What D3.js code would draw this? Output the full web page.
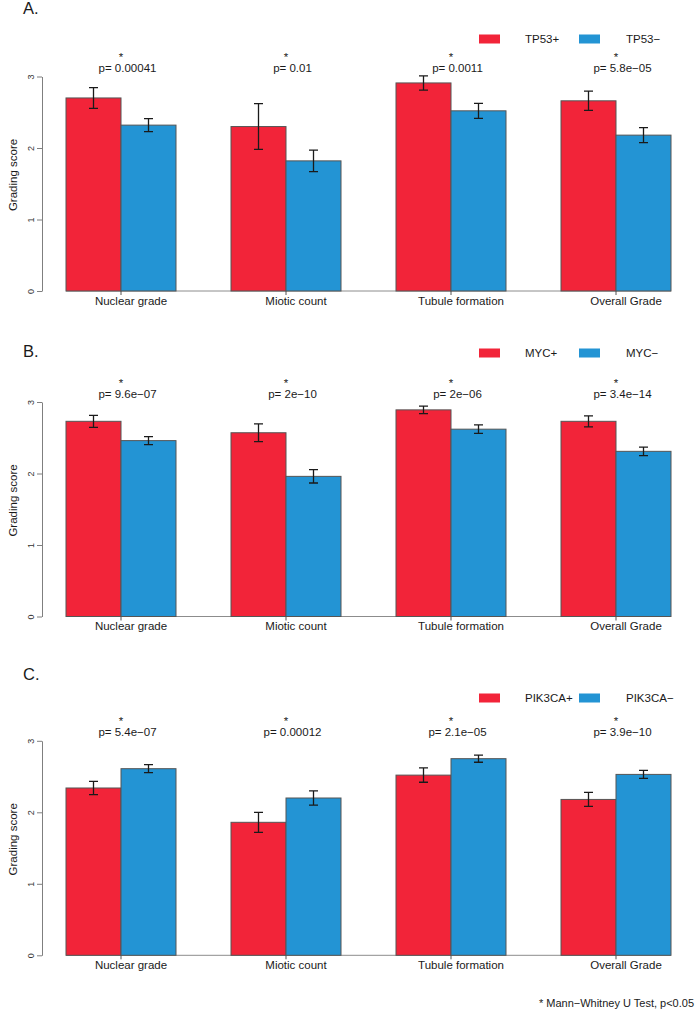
<!DOCTYPE html>
<html>
<head>
<meta charset="utf-8">
<title>Grading score by mutation status</title>
<script src="https://cdnjs.cloudflare.com/ajax/libs/d3/7.8.5/d3.min.js"></script>
<style>
body{margin:0;background:#fff;}
svg text{font-family:"Liberation Sans", Arial, sans-serif;fill:#1a1a1a;}
.axis path,.axis line{stroke:#7f7f7f;}
.axis text{font-size:9px;fill:#333;}
.bar{stroke:#555;stroke-width:1;}
.err{stroke:#1a1a1a;stroke-width:1.3;fill:none;}
.base{stroke:#8c8c8c;stroke-width:1;}
.lbl{font-size:11.5px;}
</style>
</head>
<body>
<div id="chart"></div>
<script>
// categories shared by all three panels
var categories = ["Nuclear grade", "Miotic count", "Tubule formation", "Overall Grade"];
var yTicks = [0, 1, 2, 3];

// A. TP53
var seriesTP53 = ["TP53+", "TP53\u2212"];
var meanTP53Pos = [2.70, 2.30, 2.91, 2.66];
var errTP53Pos  = [0.145, 0.32, 0.10, 0.135];
var meanTP53Neg = [2.32, 1.82, 2.52, 2.18];
var errTP53Neg  = [0.09, 0.15, 0.105, 0.105];
var pTP53 = ["0.00041", "0.01", "0.0011", "5.8e\u221205"];

// B. MYC
var seriesMYC = ["MYC+", "MYC\u2212"];
var meanMYCPos = [2.73, 2.57, 2.89, 2.73];
var errMYCPos  = [0.084, 0.124, 0.053, 0.077];
var meanMYCNeg = [2.46, 1.96, 2.62, 2.31];
var errMYCNeg  = [0.056, 0.093, 0.06, 0.06];
var pMYC = ["9.6e\u221207", "2e\u221210", "2e\u221206", "3.4e\u221214"];

// C. PIK3CA
var seriesPIK3CA = ["PIK3CA+", "PIK3CA\u2212"];
var meanPIK3CAPos = [2.34, 1.86, 2.52, 2.18];
var errPIK3CAPos  = [0.093, 0.14, 0.10, 0.098];
var meanPIK3CANeg = [2.61, 2.20, 2.75, 2.53];
var errPIK3CANeg  = [0.056, 0.10, 0.05, 0.055];
var pPIK3CA = ["5.4e\u221207", "0.00012", "2.1e\u221205", "3.9e\u221210"];

var colors = ["#F22439", "#2394D4"];

var panels = [
  {letter: "A.", series: seriesTP53, means: [meanTP53Pos, meanTP53Neg], errs: [errTP53Pos, errTP53Neg], p: pTP53,
   zero: 291, titleY: 14, legendY: 39},
  {letter: "B.", series: seriesMYC, means: [meanMYCPos, meanMYCNeg], errs: [errMYCPos, errMYCNeg], p: pMYC,
   zero: 616.5, titleY: 357, legendY: 353},
  {letter: "C.", series: seriesPIK3CA, means: [meanPIK3CAPos, meanPIK3CANeg], errs: [errPIK3CAPos, errPIK3CANeg], p: pPIK3CA,
   zero: 955.3, titleY: 680, legendY: 698}
];

var svg = d3.select("#chart").append("svg")
  .attr("width", 697)
  .attr("height", 1015);

var x = d3.scaleBand()
  .domain(categories)
  .range([66, 671])
  .paddingInner(1/3)
  .paddingOuter(0);

var unit = 71.5;

panels.forEach(function(p) {
  var g = svg.append("g");
  var xs = d3.scaleBand().domain(p.series).range([0, x.bandwidth()]);
  var y = d3.scaleLinear().domain([0, 3]).range([p.zero, p.zero - 3 * unit]);

  g.append("text")
    .attr("x", 23).attr("y", p.titleY)
    .style("font-size", "16.5px")
    .text(p.letter);

  // legend
  var lx = [479, 579], tx = [525, 626];
  p.series.forEach(function(s, i) {
    g.append("rect")
      .attr("x", lx[i]).attr("y", p.legendY - 4.5)
      .attr("width", 21).attr("height", 9)
      .attr("fill", colors[i]);
    g.append("text").attr("class", "lbl")
      .attr("x", tx[i]).attr("y", p.legendY + 4)
      .text(s);
  });

  // y axis
  var ax = g.append("g")
    .attr("class", "axis")
    .attr("transform", "translate(42,0)")
    .call(d3.axisLeft(y).tickValues(yTicks).tickSize(5).tickSizeOuter(0).tickFormat(d3.format("d")));
  ax.selectAll("text")
    .attr("x", 0).attr("dy", null)
    .attr("text-anchor", "middle")
    .attr("transform", "translate(-8,0) rotate(-90)")
    .attr("y", 0);

  g.append("text").attr("class", "lbl")
    .attr("transform", "translate(17," + (p.zero - 116) + ") rotate(-90)")
    .attr("text-anchor", "middle")
    .text("Grading score");

  // baseline
  g.append("line").attr("class", "base")
    .attr("x1", x.range()[0]).attr("x2", x.range()[1])
    .attr("y1", y(0)).attr("y2", y(0));

  var rows = [];
  categories.forEach(function(c, ci) {
    p.series.forEach(function(s, si) {
      rows.push({cat: c, s: s, si: si, v: p.means[si][ci], e: p.errs[si][ci]});
    });
  });

  g.selectAll(".bar")
    .data(rows)
    .enter().append("rect")
    .attr("class", "bar")
    .attr("x", d => x(d.cat) + xs(d.s))
    .attr("y", d => y(d.v))
    .attr("width", xs.bandwidth())
    .attr("height", d => y(0) - y(d.v))
    .attr("fill", d => colors[d.si]);

  var eb = g.selectAll(".eb")
    .data(rows)
    .enter().append("g")
    .attr("class", "eb")
    .attr("transform", d => "translate(" + (x(d.cat) + xs(d.s) + xs.bandwidth() / 2) + ",0)");
  eb.append("path")
    .attr("class", "err")
    .attr("d", d => "M0," + y(d.v + d.e) + "V" + y(d.v - d.e) +
      "M-4.5," + y(d.v + d.e) + "H4.5M-4.5," + y(d.v - d.e) + "H4.5");

  // category ticks, labels and p-values
  categories.forEach(function(c, ci) {
    var cx = x(c) + x.bandwidth() / 2;
    g.append("line")
      .attr("x1", cx).attr("x2", cx)
      .attr("y1", y(0)).attr("y2", y(0) + 4)
      .attr("stroke", "#555");
    g.append("text").attr("class", "lbl")
      .attr("x", cx + 10).attr("y", y(0) + 13.5)
      .attr("text-anchor", "middle")
      .text(c);
    g.append("text").attr("class", "lbl")
      .attr("x", cx).attr("y", y(3) - 15.5)
      .attr("text-anchor", "middle")
      .text("*");
    g.append("text").attr("class", "lbl")
      .attr("x", cx + 6.5).attr("y", y(3) - 4.5)
      .attr("text-anchor", "middle")
      .text("p= " + p.p[ci]);
  });
});

svg.append("text")
  .attr("x", 694).attr("y", 1007)
  .attr("text-anchor", "end")
  .style("font-size", "11px")
  .text("* Mann\u2212Whitney U Test, p<0.05");
</script>
</body>
</html>
